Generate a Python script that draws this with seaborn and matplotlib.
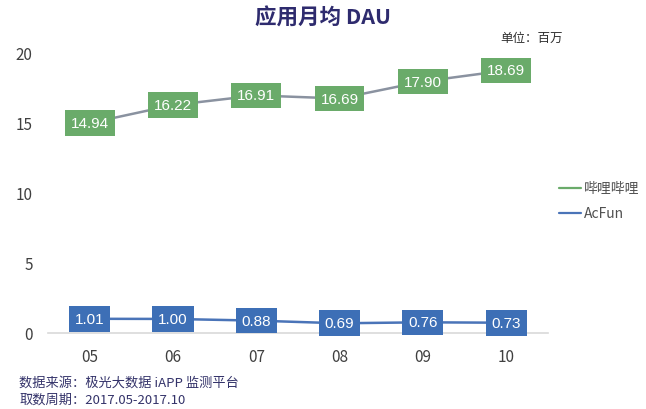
import pandas as pd
import matplotlib.pyplot as plt
import seaborn as sns

months = ["05", "06", "07", "08", "09", "10"]
bilibili = [14.94, 16.22, 16.91, 16.69, 17.90, 18.69]
acfun = [1.01, 1.00, 0.88, 0.69, 0.76, 0.73]
series_names = ["哔哩哔哩", "AcFun"]

sns.set_style("white")
plt.rcParams["font.family"] = ["Noto Sans CJK SC", "DejaVu Sans"]

df = pd.DataFrame({
    "month": months * 2,
    "x": list(range(len(months))) * 2,
    "dau": bilibili + acfun,
    "app": [series_names[0]] * len(months) + [series_names[1]] * len(months),
})

box_colors = {series_names[0]: "#6aab6a", series_names[1]: "#3d6fb6"}
line_colors = {series_names[0]: "#8a92a0", series_names[1]: "#4a74b8"}

fig = plt.figure(figsize=(6.46, 4.10), dpi=100)
ax = fig.add_axes([0.0743, 0.1854, 0.7737, 0.6853])

sns.lineplot(data=df, x="x", y="dau", hue="app", palette=line_colors,
             linewidth=1.8, ax=ax, legend=False)

for _, row in df.iterrows():
    ax.text(row["x"], row["dau"], f"{row['dau']:.2f}", ha="center", va="center",
            color="white", fontsize=11, family=["Liberation Sans", "DejaVu Sans"],
            bbox=dict(boxstyle="square,pad=0.38", fc=box_colors[row["app"]], ec="none"))

ax.set_xlim(-0.5, len(months) - 0.5)
ax.set_ylim(0, 20)
ax.set_xticks(range(len(months)))
ax.set_xticklabels(months)
ax.set_yticks([0, 5, 10, 15, 20])
ax.tick_params(axis="both", length=0, labelsize=11, colors="#404040")
ax.tick_params(axis="x", pad=11)
ax.tick_params(axis="y", pad=11)
for side in ["top", "right", "left"]:
    ax.spines[side].set_visible(False)
ax.spines["bottom"].set_color("#d9d9d9")
ax.spines["bottom"].set_linewidth(1.2)
ax.set_xlabel("")
ax.set_ylabel("")

# legend drawn by hand on the right
for i, name in enumerate(series_names):
    y = 0.54 - i * 0.062
    fig.add_artist(plt.Line2D([0.866, 0.9], [y, y], color=box_colors[name] if i == 0 else line_colors[name],
                              linewidth=1.6, transform=fig.transFigure))
    fig.text(0.904, y, name, ha="left", va="center", fontsize=10, color="#505050")

fig.text(0.5, 0.955, "应用月均 DAU", ha="center", va="center", fontsize=15.5,
         fontweight="bold", color="#2e2b6e")
fig.text(0.775, 0.907, "单位：百万", ha="left", va="center", fontsize=9, color="#303030")

fig.text(0.03, 0.066, "数据来源：极光大数据 iAPP 监测平台", ha="left", va="center",
         fontsize=9.5, style="italic", color="#34336a")
fig.text(0.03, 0.024, "取数周期：2017.05-2017.10", ha="left", va="center",
         fontsize=9.5, style="italic", color="#34336a")

fig.savefig("out.png", dpi=100)
